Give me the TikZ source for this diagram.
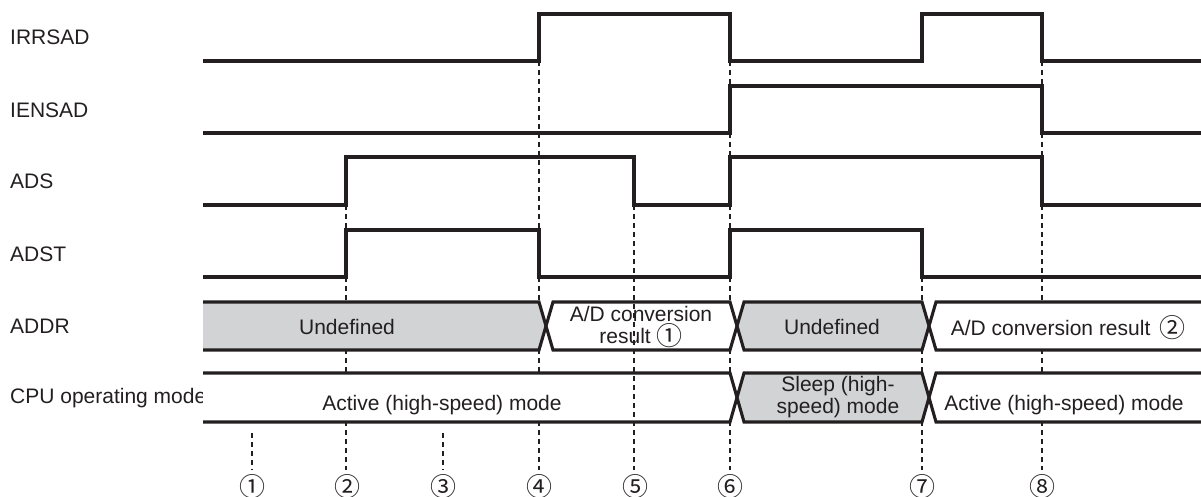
\documentclass[tikz,border=0pt]{standalone}
\usepackage{fontspec}
\setmainfont{Liberation Sans}
\newfontfamily\circfont{Noto Sans CJK JP}
\newcommand{\cnum}[1]{\smash{\circfont\fontsize{26}{26}\selectfont #1}}
\newcommand{\inum}[1]{\raisebox{-2pt}{\cnum{#1}}}
\definecolor{ink}{RGB}{35,31,32}
\definecolor{busgray}{RGB}{209,211,212}

\begin{document}
\begin{tikzpicture}[x=1pt,y=-1pt,
  wave/.style={draw=ink,line width=3.1pt,line join=miter},
  guide/.style={draw=ink,line width=1.3pt,dash pattern=on 5pt off 4pt},
  lbl/.style={anchor=base west,inner sep=0pt,text=ink,font=\fontsize{21}{24}\selectfont},
  txt/.style={inner sep=0pt,text=ink,font=\fontsize{21}{22}\selectfont,align=center},
  num/.style={inner sep=0pt,text=ink,text height=18pt,text depth=0pt}]
\useasboundingbox (0,0) rectangle (1201,497);

% signal names
\node[lbl] (lirr) at (10,45) {IRRSAD};
\node[lbl] (lien) at (10,117.5) {IENSAD};
\node[lbl] (lads) at (10,189) {ADS};
\node[lbl] (ladst) at (10,261) {ADST};
\node[lbl] (laddr) at (10,333.5) {ADDR};
\node[lbl] (lcpu) at (10,403) {CPU operating mode};

% guide lines hidden by the bus boxes
\draw[guide] (252,433) -- (252,470);
\draw[guide] (443,433) -- (443,470);
\draw[guide] (346,205) -- (346,470);
\draw[guide] (539,61) -- (539,470);
\draw[guide] (730,61) -- (730,470);
\draw[guide] (922,277) -- (922,470);
\draw[guide] (1042,61) -- (1042,470);

% digital waveforms
\draw[wave] (203,61) -- (539,61) -- (539,14) -- (730,14) -- (730,61) -- (922,61) -- (922,14) -- (1042,14) -- (1042,61) -- (1201,61);
\draw[wave] (203,133) -- (730,133) -- (730,86) -- (1042,86) -- (1042,133) -- (1201,133);
\draw[wave] (203,205) -- (346,205) -- (346,157) -- (634,157) -- (634,205) -- (730,205) -- (730,157) -- (1042,157) -- (1042,205) -- (1201,205);
\draw[wave] (203,277) -- (346,277) -- (346,230) -- (539,230) -- (539,277) -- (730,277) -- (730,230) -- (922,230) -- (922,277) -- (1201,277);

% ADDR bus
\fill[busgray] (203,302) -- (539,302) -- (546,326) -- (539,350) -- (203,350) -- cycle;
\draw[wave] (203,302) -- (539,302) -- (546,326) -- (539,350) -- (203,350);
\filldraw[wave,fill=white] (553,302) -- (730,302) -- (737,326) -- (730,350) -- (553,350) -- (546,326) -- cycle;
\filldraw[wave,fill=busgray] (744,302) -- (922,302) -- (929,326) -- (922,350) -- (744,350) -- (737,326) -- cycle;
\fill[white] (1201,302) -- (936,302) -- (929,326) -- (936,350) -- (1201,350) -- cycle;
\draw[wave] (1201,302) -- (936,302) -- (929,326) -- (936,350) -- (1201,350);

% CPU mode bus
\fill[white] (203,373) -- (730,373) -- (737,397.5) -- (730,422) -- (203,422) -- cycle;
\draw[wave] (203,373) -- (730,373) -- (737,397.5) -- (730,422) -- (203,422);
\filldraw[wave,fill=busgray] (744,373) -- (922,373) -- (929,397.5) -- (922,422) -- (744,422) -- (737,397.5) -- cycle;
\fill[white] (1201,373) -- (936,373) -- (929,397.5) -- (936,422) -- (1201,422) -- cycle;
\draw[wave] (1201,373) -- (936,373) -- (929,397.5) -- (936,422) -- (1201,422);

% guide line drawn over the boxes
\draw[guide] (634,205) -- (634,470);

% bus contents
\node[txt,anchor=base] (und1) at (347,334) {Undefined};
\node[txt] (res1) at (641,326) {A/D conversion\\result \inum{①}};
\node[txt,anchor=base] (und2) at (832,334) {Undefined};
\node[txt,anchor=base] (res2) at (1068,335) {A/D conversion result\hspace{3pt} \inum{②}};
\node[txt,anchor=base] (act1) at (442,410.5) {Active (high-speed) mode};
\node[txt] (slp) at (838,397) {Sleep (high-\\speed) mode};
\node[txt,anchor=base] (act2) at (1064,410.5) {Active (high-speed) mode};

% timing points
\node[num] (n1) at (252,487) {\cnum{①}};
\node[num] (n2) at (347,487) {\cnum{②}};
\node[num] (n3) at (443,487) {\cnum{③}};
\node[num] (n4) at (539,487) {\cnum{④}};
\node[num] (n5) at (635,487) {\cnum{⑤}};
\node[num] (n6) at (730,487) {\cnum{⑥}};
\node[num] (n7) at (922,487) {\cnum{⑦}};
\node[num] (n8) at (1042,487) {\cnum{⑧}};
\end{tikzpicture}
\end{document}
